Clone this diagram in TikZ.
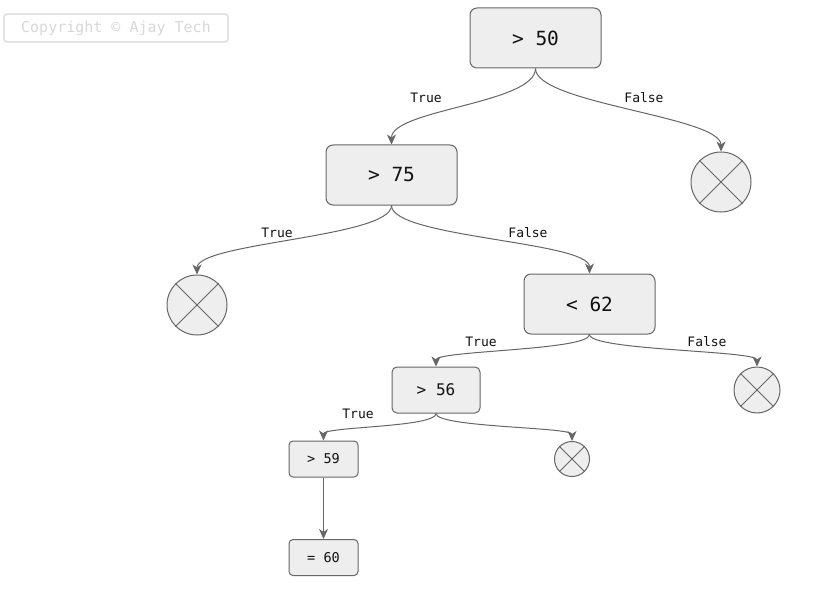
\documentclass[tikz,border=0pt]{standalone}
\usepackage{fontspec}
\setmonofont{DejaVu Sans Mono}
\usetikzlibrary{arrows.meta}
\definecolor{bx}{HTML}{EEEEEE}
\definecolor{ln}{HTML}{666666}
\definecolor{cp}{HTML}{D8D8D8}
\definecolor{tx}{HTML}{111111}
\begin{document}
\begin{tikzpicture}[x=1pt,y=-1pt,
  box/.style={draw=ln,fill=bx,rounded corners=7pt,line width=1pt,inner sep=0pt,text=tx},
  big/.style={box,minimum width=131pt,minimum height=60pt,font=\ttfamily\fontsize{19.5}{19.5}\selectfont},
  mid/.style={box,rounded corners=5pt,minimum width=88pt,minimum height=46pt,font=\ttfamily\fontsize{16}{16}\selectfont},
  sml/.style={box,rounded corners=4pt,minimum width=69pt,minimum height=36pt,font=\ttfamily\fontsize{13.5}{13.5}\selectfont},
  xc/.style={circle,draw=ln,fill=bx,line width=1pt,inner sep=0pt,minimum size=#1},
  ed/.style={draw=ln,line width=1pt,-{Stealth[length=10pt,width=9pt,inset=3pt]}},
  lbl/.style={font=\ttfamily\fontsize{13}{13}\selectfont,text=tx,inner sep=0pt},
  crs/.style={draw=ln,line width=1pt}]
\useasboundingbox (0,0) rectangle (819,591);
\fill[white] (0,0) rectangle (819,591);
% copyright
\node[draw=cp,line width=1.2pt,rounded corners=3pt,minimum width=224pt,minimum height=28pt,inner sep=0pt,text=cp,font=\ttfamily\fontsize{15}{15}\selectfont] (cr) at (116,28) {Copyright © Ajay Tech};
% nodes
\node[big] (n50) at (535.5,38) {> 50};
\node[big] (n75) at (391.5,175) {> 75};
\node[big] (n62) at (589.5,304) {< 62};
\node[mid] (n56) at (436,390) {> 56};
\node[sml] (n59) at (323.5,459) {> 59};
\node[sml] (n60) at (323.5,557.5) {= 60};
\node[xc=60pt] (x1) at (721,182) {};
\node[xc=60pt] (x2) at (197,305) {};
\node[xc=46pt] (x3) at (757,390) {};
\node[xc=35pt] (x4) at (572,459) {};
\foreach \c in {x1,x2,x3,x4}{
  \draw[crs] (\c.45) -- (\c.225) (\c.135) -- (\c.-45);
}
% edges
\draw[ed] (n50.south) .. controls +(0,35) and +(0,-35) .. (n75.north);
\draw[ed] (n50.south) .. controls +(0,35) and +(0,-35) .. (x1.north);
\draw[ed] (n75.south) .. controls +(0,32) and +(0,-32) .. (x2.north);
\draw[ed] (n75.south) .. controls +(0,32) and +(0,-32) .. (n62.north);
\draw[ed] (n62.south) .. controls +(0,16) and +(0,-16) .. (n56.north);
\draw[ed] (n62.south) .. controls +(0,16) and +(0,-16) .. (x3.north);
\draw[ed] (n56.south) .. controls +(0,14) and +(0,-14) .. (n59.north);
\draw[ed] (n56.south) .. controls +(0,14) and +(0,-14) .. (x4.north);
\draw[ed] (n59.south) -- (n60.north);
% labels
\node[lbl] (l1) at (426,98) {True};
\node[lbl] (l2) at (644,98) {False};
\node[lbl] (l3) at (277,233) {True};
\node[lbl] (l4) at (528,233) {False};
\node[lbl] (l5) at (481,342) {True};
\node[lbl] (l6) at (707,342) {False};
\node[lbl] (l7) at (358,414) {True};
\end{tikzpicture}
\end{document}
